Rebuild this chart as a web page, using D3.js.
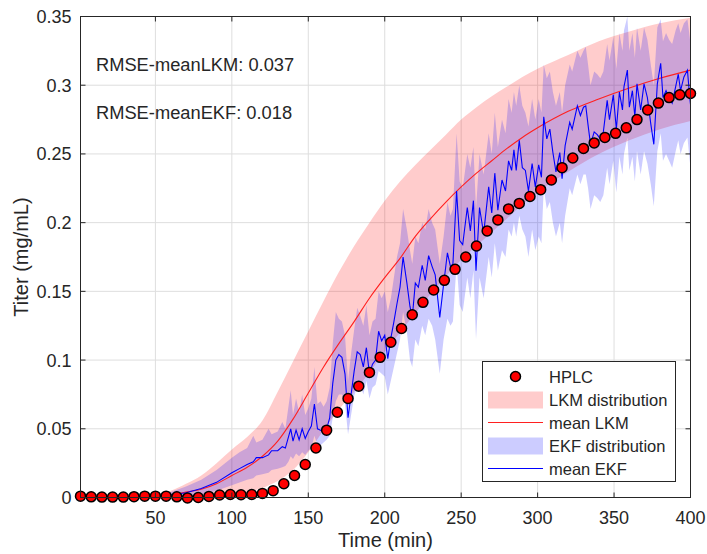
<!DOCTYPE html>
<html>
<head>
<meta charset="utf-8">
<script src="https://cdn.jsdelivr.net/npm/d3@7"></script>
<style>
  body { margin: 0; background: #fff; }
  text { font-family: "Liberation Sans", Arial, sans-serif; fill: #262626; }
</style>
</head>
<body>
<div id="chart"></div>
<script>
// HPLC measurements (every 7 min)
var hplcTime = [1, 8, 15, 22, 29, 36, 43, 50, 57, 64, 71, 78, 85, 92, 99, 106, 113, 120, 127, 134,
  141, 148, 155, 162, 169, 176, 183, 190, 197, 204, 211, 218, 225, 232, 239, 246, 253, 260, 267, 274,
  281, 288, 295, 302, 309, 316, 323, 330, 337, 344, 351, 358, 365, 372, 379, 386, 393, 400];
var hplcTiter = [0.001, 0.0005, 0.0003, 0.0003, 0.0003, 0.0006, 0.001, 0.001, 0.001, 0.0005, -0.0003, 0, 0.0008, 0.0018, 0.0022, 0.002, 0.0022, 0.003, 0.005, 0.010,
  0.016, 0.024, 0.036, 0.049, 0.062, 0.072, 0.081, 0.091, 0.102, 0.113, 0.123, 0.133, 0.142, 0.151, 0.158, 0.166, 0.175, 0.183, 0.194, 0.202,
  0.210, 0.214, 0.219, 0.224, 0.231, 0.240, 0.247, 0.254, 0.258, 0.262, 0.265, 0.269, 0.275, 0.282, 0.287, 0.291, 0.293, 0.294];

// LKM model: mean and distribution
var lkmTime = [1, 20, 40, 50, 60, 70, 80, 90, 100, 110, 120, 130, 140, 150, 160, 170, 180, 190, 200,
  210, 220, 230, 240, 250, 260, 270, 280, 290, 300, 320, 340, 360, 380, 400];
var lkmMean = [0, 0, 0.0005, 0.001, 0.002, 0.004, 0.006, 0.010, 0.016, 0.022, 0.030, 0.041, 0.057, 0.076, 0.095, 0.112, 0.128, 0.145, 0.160,
  0.174, 0.190, 0.203, 0.215, 0.226, 0.236, 0.245, 0.254, 0.262, 0.269, 0.281, 0.290, 0.298, 0.305, 0.311];
var lkmLow = [0, 0, 0, 0, 0, 0.0002, 0.0005, 0.001, 0.002, 0.004, 0.007, 0.012, 0.020, 0.033, 0.049, 0.064, 0.077, 0.091, 0.106,
  0.120, 0.134, 0.148, 0.161, 0.173, 0.183, 0.193, 0.203, 0.213, 0.222, 0.237, 0.250, 0.260, 0.268, 0.274];
var lkmHigh = [0, 0.0002, 0.001, 0.002, 0.005, 0.010, 0.016, 0.025, 0.035, 0.044, 0.056, 0.077, 0.099, 0.121, 0.143, 0.164, 0.183, 0.200, 0.216,
  0.230, 0.242, 0.253, 0.264, 0.275, 0.284, 0.292, 0.299, 0.306, 0.312, 0.322, 0.332, 0.339, 0.345, 0.349];

// EKF estimate: mean and distribution
var ekfTime = [1, 20, 40, 50, 60, 70, 80, 90, 100, 105, 110, 114, 116, 120, 124, 126, 130, 133, 135, 137,
  138.5, 140, 142, 144, 146, 148, 150, 152, 154, 156, 158, 160, 162, 164, 166, 168, 170, 172, 174, 176,
  178, 180, 182, 184, 186, 188, 190, 192, 194, 196, 198, 200, 202, 204, 206, 208, 210, 212, 214.5, 216.5,
  218, 220, 222, 224.5, 226.5, 228.7, 231, 233, 236, 238.5, 241, 243, 244.6, 247, 249, 251, 254, 256, 258, 259.7,
  262, 264.7, 268, 270, 272, 274, 276.7, 279, 281, 283, 284.5, 286, 288, 290, 292, 294, 296.4, 298.5, 300.7, 302.5,
  304, 306, 308, 310, 312, 314.5, 316, 318, 321, 322.6, 326, 328, 330, 331.5, 333, 334.6, 337, 339, 341, 343,
  345.5, 347, 349.5, 351.5, 353.5, 355.5, 356.5, 358.7, 360, 362, 363.6, 365, 367.4, 369.6, 371.8, 374, 376, 378.3, 380.5, 382,
  384, 386, 388, 390.3, 392, 393.5, 395.7, 398, 399.5, 400];
var ekfMean = [0, 0, 0.0003, 0.0008, 0.0018, 0.0035, 0.0065, 0.011, 0.018, 0.021, 0.024, 0.026, 0.029, 0.029, 0.031, 0.034, 0.034, 0.037, 0.036, 0.044,
  0.050, 0.041, 0.049, 0.042, 0.050, 0.043, 0.048, 0.052, 0.068, 0.050, 0.049, 0.048, 0.050, 0.058, 0.083, 0.100, 0.104, 0.102, 0.090, 0.058,
  0.075, 0.092, 0.106, 0.104, 0.095, 0.109, 0.090, 0.097, 0.100, 0.121, 0.114, 0.118, 0.101, 0.116, 0.128, 0.141, 0.153, 0.175, 0.156, 0.139,
  0.131, 0.156, 0.153, 0.169, 0.158, 0.176, 0.168, 0.162, 0.131, 0.155, 0.178, 0.168, 0.170, 0.223, 0.187, 0.184, 0.211, 0.194, 0.216, 0.165,
  0.211, 0.192, 0.226, 0.207, 0.236, 0.209, 0.231, 0.223, 0.245, 0.238, 0.253, 0.238, 0.260, 0.240, 0.238, 0.223, 0.243, 0.226, 0.242, 0.233,
  0.277, 0.261, 0.268, 0.251, 0.237, 0.251, 0.232, 0.256, 0.273, 0.268, 0.285, 0.278, 0.284, 0.285, 0.271, 0.257, 0.266, 0.264, 0.261, 0.266,
  0.289, 0.275, 0.293, 0.268, 0.295, 0.282, 0.299, 0.311, 0.284, 0.296, 0.277, 0.301, 0.282, 0.301, 0.291, 0.272, 0.257, 0.301, 0.316, 0.291,
  0.296, 0.291, 0.287, 0.299, 0.308, 0.296, 0.306, 0.311, 0.291, 0.286];
var ekfLow = [0, 0, 0, 0.0002, 0.0005, 0.001, 0.002, 0.005, 0.009, 0.011, 0.013, 0.014, 0.016, 0.017, 0.018, 0.020, 0.021, 0.022, 0.023, 0.026,
  0.030, 0.028, 0.032, 0.030, 0.033, 0.031, 0.034, 0.036, 0.045, 0.038, 0.038, 0.040, 0.042, 0.045, 0.058, 0.070, 0.075, 0.075, 0.068, 0.046,
  0.060, 0.074, 0.080, 0.082, 0.075, 0.085, 0.072, 0.080, 0.082, 0.092, 0.090, 0.088, 0.075, 0.085, 0.095, 0.105, 0.115, 0.135, 0.120, 0.100,
  0.095, 0.115, 0.110, 0.125, 0.118, 0.130, 0.125, 0.115, 0.090, 0.115, 0.130, 0.125, 0.128, 0.170, 0.140, 0.135, 0.160, 0.145, 0.165, 0.115,
  0.160, 0.145, 0.175, 0.160, 0.185, 0.165, 0.180, 0.175, 0.195, 0.190, 0.200, 0.190, 0.205, 0.195, 0.190, 0.175, 0.195, 0.180, 0.190, 0.185,
  0.225, 0.210, 0.215, 0.200, 0.190, 0.200, 0.185, 0.205, 0.225, 0.220, 0.235, 0.228, 0.235, 0.235, 0.225, 0.210, 0.220, 0.218, 0.215, 0.220,
  0.240, 0.228, 0.245, 0.222, 0.248, 0.235, 0.250, 0.262, 0.238, 0.248, 0.230, 0.252, 0.235, 0.252, 0.243, 0.228, 0.212, 0.252, 0.265, 0.245,
  0.250, 0.245, 0.240, 0.252, 0.260, 0.250, 0.258, 0.262, 0.245, 0.240];
var ekfHigh = [0, 0, 0.001, 0.002, 0.004, 0.008, 0.013, 0.020, 0.029, 0.033, 0.036, 0.045, 0.040, 0.042, 0.050, 0.046, 0.048, 0.055, 0.050, 0.066,
  0.078, 0.060, 0.072, 0.062, 0.075, 0.060, 0.065, 0.072, 0.095, 0.068, 0.070, 0.066, 0.070, 0.080, 0.112, 0.135, 0.130, 0.128, 0.118, 0.085,
  0.105, 0.122, 0.138, 0.132, 0.125, 0.140, 0.118, 0.128, 0.130, 0.150, 0.145, 0.150, 0.135, 0.145, 0.160, 0.175, 0.185, 0.210, 0.195, 0.180,
  0.170, 0.190, 0.185, 0.200, 0.195, 0.210, 0.200, 0.195, 0.170, 0.190, 0.215, 0.205, 0.210, 0.265, 0.230, 0.225, 0.250, 0.240, 0.255, 0.210,
  0.250, 0.235, 0.265, 0.250, 0.280, 0.255, 0.275, 0.265, 0.290, 0.280, 0.295, 0.285, 0.300, 0.285, 0.280, 0.270, 0.290, 0.275, 0.290, 0.280,
  0.315, 0.305, 0.310, 0.295, 0.285, 0.295, 0.280, 0.300, 0.315, 0.310, 0.325, 0.320, 0.325, 0.328, 0.315, 0.300, 0.310, 0.308, 0.305, 0.310,
  0.330, 0.318, 0.335, 0.312, 0.338, 0.325, 0.340, 0.350, 0.325, 0.338, 0.320, 0.342, 0.325, 0.342, 0.333, 0.315, 0.300, 0.342, 0.348, 0.332,
  0.338, 0.333, 0.330, 0.340, 0.345, 0.338, 0.345, 0.348, 0.335, 0.330];

var xTicks = [50, 100, 150, 200, 250, 300, 350, 400];
var yTicks = [0, 0.05, 0.1, 0.15, 0.2, 0.25, 0.3, 0.35];
var rmseLabels = ["RMSE-meanLKM: 0.037", "RMSE-meanEKF: 0.018"];
var legendLabels = ["HPLC", "LKM distribution", "mean LKM", "EKF distribution", "mean EKF"];

// layout
var width = 707, height = 554;
var plot = { left: 80.5, right: 690.5, top: 16.5, bottom: 497.5 };
var axisColor = "#262626";

var svg = d3.select("#chart").append("svg")
  .attr("width", width)
  .attr("height", height);

var x = d3.scaleLinear().domain([1, 400]).range([plot.left, plot.right]);
var y = d3.scaleLinear().domain([0, 0.35]).range([plot.bottom, plot.top]);

// clip so bands stay inside the box
svg.append("clipPath").attr("id", "clip")
  .append("rect")
  .attr("x", plot.left).attr("y", plot.top)
  .attr("width", plot.right - plot.left)
  .attr("height", plot.bottom - plot.top);

// grid
var grid = svg.append("g");
grid.selectAll(".gx").data(xTicks).enter().append("line")
  .attr("x1", function (d) { return x(d); }).attr("x2", function (d) { return x(d); })
  .attr("y1", plot.top).attr("y2", plot.bottom)
  .attr("stroke", "#dedede").attr("stroke-width", 1);
grid.selectAll(".gy").data(yTicks).enter().append("line")
  .attr("y1", function (d) { return y(d); }).attr("y2", function (d) { return y(d); })
  .attr("x1", plot.left).attr("x2", plot.right)
  .attr("stroke", "#dedede").attr("stroke-width", 1);

var g = svg.append("g").attr("clip-path", "url(#clip)");

var lkm = lkmTime.map(function (t, i) { return { t: t, m: lkmMean[i], lo: lkmLow[i], hi: lkmHigh[i] }; });
var ekf = ekfTime.map(function (t, i) { return { t: t, m: ekfMean[i], lo: ekfLow[i], hi: ekfHigh[i] }; });

// LKM band
g.append("path")
  .datum(lkm)
  .attr("fill", "#ff0000").attr("fill-opacity", 0.2)
  .attr("d", d3.area()
    .x(function (d) { return x(d.t); })
    .y0(function (d) { return y(d.lo); })
    .y1(function (d) { return y(d.hi); })
    .curve(d3.curveMonotoneX));

// EKF band
g.append("path")
  .datum(ekf)
  .attr("fill", "#0000ff").attr("fill-opacity", 0.2)
  .attr("d", d3.area()
    .x(function (d) { return x(d.t); })
    .y0(function (d) { return y(d.lo); })
    .y1(function (d) { return y(d.hi); }));

// mean lines
g.append("path")
  .datum(lkm)
  .attr("fill", "none").attr("stroke", "#ff2020").attr("stroke-width", 1.1)
  .attr("d", d3.line()
    .x(function (d) { return x(d.t); })
    .y(function (d) { return y(d.m); })
    .curve(d3.curveMonotoneX));

g.append("path")
  .datum(ekf)
  .attr("fill", "none").attr("stroke", "#0000ff").attr("stroke-width", 1.1)
  .attr("d", d3.line()
    .x(function (d) { return x(d.t); })
    .y(function (d) { return y(d.m); }));

// HPLC points
svg.append("g").selectAll("circle")
  .data(hplcTime)
  .enter().append("circle")
  .attr("cx", function (d) { return x(d); })
  .attr("cy", function (d, i) { return y(hplcTiter[i]); })
  .attr("r", 5)
  .attr("fill", "#ff0000")
  .attr("stroke", "#000").attr("stroke-width", 1.5);

// box and inward ticks
svg.append("rect")
  .attr("x", plot.left).attr("y", plot.top)
  .attr("width", plot.right - plot.left).attr("height", plot.bottom - plot.top)
  .attr("fill", "none").attr("stroke", axisColor).attr("stroke-width", 1);

var tickLen = 5;
var ticks = svg.append("g").attr("stroke", axisColor).attr("stroke-width", 1);
xTicks.forEach(function (d) {
  ticks.append("line").attr("x1", x(d)).attr("x2", x(d)).attr("y1", plot.bottom).attr("y2", plot.bottom - tickLen);
  ticks.append("line").attr("x1", x(d)).attr("x2", x(d)).attr("y1", plot.top).attr("y2", plot.top + tickLen);
});
yTicks.forEach(function (d) {
  ticks.append("line").attr("y1", y(d)).attr("y2", y(d)).attr("x1", plot.left).attr("x2", plot.left + tickLen);
  ticks.append("line").attr("y1", y(d)).attr("y2", y(d)).attr("x1", plot.right).attr("x2", plot.right - tickLen);
});

// tick labels
svg.append("g").selectAll("text")
  .data(xTicks).enter().append("text")
  .attr("x", function (d) { return x(d); })
  .attr("y", plot.bottom + 26)
  .attr("text-anchor", "middle")
  .style("font-size", "18px")
  .text(function (d) { return d; });

svg.append("g").selectAll("text")
  .data(yTicks).enter().append("text")
  .attr("x", plot.left - 9)
  .attr("y", function (d) { return y(d) + 6.5; })
  .attr("text-anchor", "end")
  .style("font-size", "18px")
  .text(function (d) { return +d.toFixed(2); });

// axis titles
svg.append("text")
  .attr("x", (plot.left + plot.right) / 2)
  .attr("y", 547)
  .attr("text-anchor", "middle")
  .style("font-size", "20px")
  .text("Time (min)");

svg.append("text")
  .attr("transform", "translate(28," + ((plot.top + plot.bottom) / 2) + ") rotate(-90)")
  .attr("text-anchor", "middle")
  .style("font-size", "20px")
  .text("Titer (mg/mL)");

// RMSE annotations
svg.selectAll(".rmse").data(rmseLabels).enter().append("text")
  .attr("x", 96)
  .attr("y", function (d, i) { return 71 + i * 48; })
  .style("font-size", "18.3px")
  .text(function (d) { return d; });

// legend
var leg = svg.append("g");
leg.append("rect")
  .attr("x", 482.5).attr("y", 361.5).attr("width", 193).attr("height", 120)
  .attr("fill", "#fff").attr("stroke", axisColor).attr("stroke-width", 1);

var rowY = [376.5, 399.5, 422.5, 445.5, 468.5];
var symX0 = 488, symX1 = 543;
// HPLC marker
leg.append("circle").attr("cx", (symX0 + symX1) / 2).attr("cy", rowY[0]).attr("r", 5)
  .attr("fill", "#ff0000").attr("stroke", "#000").attr("stroke-width", 1.5);
// LKM distribution patch
leg.append("rect").attr("x", symX0).attr("y", rowY[1] - 8).attr("width", symX1 - symX0).attr("height", 17)
  .attr("fill", "#ff0000").attr("fill-opacity", 0.2);
// mean LKM
leg.append("line").attr("x1", symX0).attr("x2", symX1).attr("y1", rowY[2]).attr("y2", rowY[2])
  .attr("stroke", "#ff2020").attr("stroke-width", 1.1);
// EKF distribution patch
leg.append("rect").attr("x", symX0).attr("y", rowY[3] - 8).attr("width", symX1 - symX0).attr("height", 17)
  .attr("fill", "#0000ff").attr("fill-opacity", 0.2);
// mean EKF
leg.append("line").attr("x1", symX0).attr("x2", symX1).attr("y1", rowY[4]).attr("y2", rowY[4])
  .attr("stroke", "#0000ff").attr("stroke-width", 1.1);

leg.selectAll(".lt").data(legendLabels).enter().append("text")
  .attr("x", 549)
  .attr("y", function (d, i) { return rowY[i] + 6; })
  .style("font-size", "16.5px")
  .text(function (d) { return d; });
</script>
</body>
</html>
